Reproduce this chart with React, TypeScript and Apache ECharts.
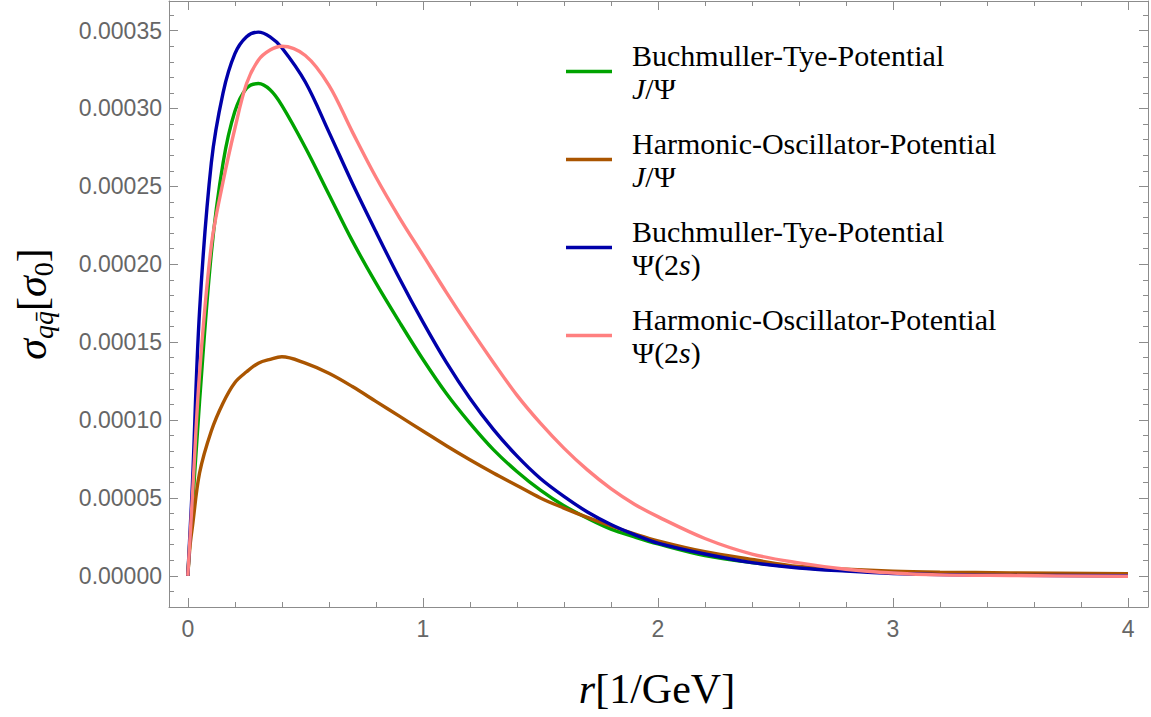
import { useEffect, useRef } from 'react';
import * as echarts from 'echarts';

// r in 1/GeV
const rValues = [0, 0.01, 0.02, 0.05, 0.1, 0.15, 0.2, 0.25, 0.3, 0.35, 0.4, 0.5, 0.6, 0.7, 0.8, 0.9, 1.0, 1.1, 1.2, 1.3, 1.4, 1.5, 1.6, 1.7, 1.8, 1.9, 2.0, 2.2, 2.4, 2.6, 2.8, 3.0, 3.2, 3.5, 4.0];

// Buchmuller-Tye J/Psi
const btJpsi = [0, 0.000025, 0.000045, 0.000112, 0.000207, 0.000265, 0.000298, 0.000313, 0.000316, 0.000312, 0.000302, 0.000275, 0.000245, 0.000215, 0.000188, 0.000163, 0.000139, 0.000117, 0.000098, 0.000081, 0.000067, 0.000055, 0.000045, 0.000037, 0.00003, 0.000025, 0.0000205, 0.000013, 0.0000085, 0.0000055, 0.0000035, 0.000002, 0.0000013, 0.0000006, 0.0000002];
// Harmonic oscillator J/Psi
const hoJpsi = [0, 0.00002, 0.000032, 0.000066, 0.000093, 0.000111, 0.000124, 0.000131, 0.0001365, 0.000139, 0.0001406, 0.0001365, 0.00013, 0.0001215, 0.000112, 0.0001025, 0.000093, 0.0000835, 0.0000745, 0.000066, 0.000058, 0.00005, 0.0000435, 0.0000375, 0.000032, 0.000027, 0.0000225, 0.0000155, 0.0000105, 0.000006, 0.0000042, 0.000003, 0.0000024, 0.0000019, 0.0000013];
// Buchmuller-Tye Psi(2s)
const btPsi2s = [0, 0.00003, 0.00006, 0.00017, 0.000265, 0.00031, 0.000335, 0.000346, 0.000349, 0.000346, 0.000339, 0.000317, 0.000285, 0.000252, 0.000221, 0.000191, 0.000163, 0.000137, 0.000114, 0.000094, 0.000077, 0.0000625, 0.000051, 0.000041, 0.000033, 0.0000265, 0.000021, 0.000014, 0.0000085, 0.000005, 0.000003, 0.0000015, 0.0000008, 0.0000003, 0.0000001];
// Harmonic oscillator Psi(2s)
const hoPsi2s = [0, 0.000026, 0.000052, 0.00013, 0.000212, 0.000253, 0.000287, 0.000316, 0.000331, 0.0003375, 0.00034, 0.000334, 0.000315, 0.000285, 0.000256, 0.00023, 0.000206, 0.000182, 0.000159, 0.000137, 0.000116, 0.000098, 0.000082, 0.000068, 0.000056, 0.000046, 0.000038, 0.000024, 0.000014, 0.0000083, 0.0000042, 0.0000018, 0.0000006, 0.0000002, -0.0000003];

const seriesNames = [
  'Buchmuller-Tye-Potential J/Ψ',
  'Harmonic-Oscillator-Potential J/Ψ',
  'Buchmuller-Tye-Potential Ψ(2s)',
  'Harmonic-Oscillator-Potential Ψ(2s)',
];
const legendLine1 = ['Buchmuller-Tye-Potential', 'Harmonic-Oscillator-Potential', 'Buchmuller-Tye-Potential', 'Harmonic-Oscillator-Potential'];
const legendLine2 = ['{i|J}{n|/Ψ}', '{i|J}{n|/Ψ}', '{n|Ψ(2}{i|s}{n|)}', '{n|Ψ(2}{i|s}{n|)}'];
const seriesColors = ['#00a300', '#aa5500', '#0000aa', '#ff8080'];
const seriesValues = [btJpsi, hoJpsi, btPsi2s, hoPsi2s];

const xMin = -0.08;
const xMax = 4.085;
const yMin = -0.00002;
const yMax = 0.000369;
const yStep = 0.00005;

export default function App() {
  const ref = useRef<HTMLDivElement>(null);
  useEffect(() => {
    const chart = echarts.init(ref.current!, null, { renderer: 'svg' });
    const frameColor = '#8c8c8c';
    const lineStyle = { color: frameColor, width: 1 };
    const tickLabel = { color: '#666666', fontSize: 23, fontFamily: 'Liberation Sans, Arial, sans-serif' };
    const serif = 'Liberation Serif, Times New Roman, serif';

    const xCommon = {
      type: 'value' as const,
      min: xMin,
      max: xMax,
      splitNumber: 5,
      splitLine: { show: false },
      axisLine: { show: true, onZero: false, lineStyle },
      axisTick: { show: true, inside: true, length: 9, lineStyle },
      minorTick: { show: true, splitNumber: 5, length: 5, lineStyle },
      minorSplitLine: { show: false },
    };
    const yCommon = {
      type: 'value' as const,
      min: yMin,
      max: yMax,
      splitNumber: 8,
      splitLine: { show: false },
      axisLine: { show: true, onZero: false, lineStyle },
      axisTick: { show: true, inside: true, length: 9, lineStyle },
      minorTick: { show: true, splitNumber: 5, length: 5, lineStyle },
      minorSplitLine: { show: false },
    };

    const option = {
      animation: false,
      backgroundColor: '#ffffff',
      color: seriesColors,
      grid: { left: 169, right: 1, top: 1, bottom: 110, containLabel: false },
      xAxis: [
        {
          ...xCommon,
          position: 'bottom',
          axisLabel: {
            ...tickLabel,
            margin: 10,
            formatter: (v: number) => (Math.abs(v - Math.round(v)) < 1e-9 ? String(Math.round(v)) : ''),
          },
        },
        { ...xCommon, position: 'top', axisLabel: { show: false } },
      ],
      yAxis: [
        {
          ...yCommon,
          position: 'left',
          axisLabel: {
            ...tickLabel,
            margin: 7,
            formatter: (v: number) => {
              const k = v / yStep;
              return Math.abs(k - Math.round(k)) < 1e-6 ? Math.abs(v).toFixed(5) : '';
            },
          },
        },
        { ...yCommon, position: 'right', axisLabel: { show: false } },
      ],
      legend: {
        show: true,
        orient: 'vertical',
        left: 566,
        top: 40,
        padding: 0,
        itemGap: 25,
        itemWidth: 46,
        itemHeight: 3.5,
        icon: 'rect',
        selectedMode: false,
        data: seriesNames,
        formatter: (name: string) => {
          const i = seriesNames.indexOf(name);
          return `{n|${legendLine1[i]}}\n${legendLine2[i]}`;
        },
        textStyle: {
          padding: [0, 0, 0, 15],
          rich: {
            n: { fontFamily: serif, fontSize: 30, lineHeight: 33, color: '#000' },
            i: { fontFamily: serif, fontSize: 30, lineHeight: 33, color: '#000', fontStyle: 'italic' },
          },
        },
      },
      graphic: [
        {
          type: 'text',
          x: 657,
          y: 689,
          style: {
            text: '{i|r}{n|[1/GeV]}',
            align: 'center',
            verticalAlign: 'middle',
            rich: {
              i: { fontFamily: serif, fontSize: 42, fontStyle: 'italic', fill: '#000' },
              n: { fontFamily: serif, fontSize: 42, fill: '#000' },
            },
          },
        },
        {
          type: 'text',
          x: 32,
          y: 304,
          rotation: Math.PI / 2,
          style: {
            text: '{s|σ}{sub|qq\u0304}{b|[}{s|σ}{sub0|0}{b|]}',
            align: 'center',
            verticalAlign: 'middle',
            rich: {
              s: { fontFamily: serif, fontSize: 42, fontStyle: 'italic', fill: '#000', lineHeight: 50, verticalAlign: 'middle' },
              b: { fontFamily: serif, fontSize: 42, fill: '#000', lineHeight: 50, verticalAlign: 'middle' },
              sub: { fontFamily: serif, fontSize: 28, fontStyle: 'italic', fill: '#000', lineHeight: 26, verticalAlign: 'bottom' },
              sub0: { fontFamily: serif, fontSize: 28, fill: '#000', lineHeight: 26, verticalAlign: 'bottom' },
            },
          },
        },
      ],
      series: seriesNames.map((name, si) => ({
        name,
        type: 'line',
        xAxisIndex: 0,
        yAxisIndex: 0,
        showSymbol: false,
        symbol: 'none',
        smooth: 0.35,
        clip: true,
        lineStyle: { width: 3.4, color: seriesColors[si] },
        itemStyle: { color: seriesColors[si] },
        data: rValues.map((r, k) => [r, seriesValues[si][k]]),
      })),
    };
    chart.setOption(option as any);
    return () => chart.dispose();
  }, []);
  return (
    <div
      ref={ref}
      style={{ position: 'fixed', left: 0, top: 0, width: 1151, height: 717, background: '#fff' }}
    />
  );
}
